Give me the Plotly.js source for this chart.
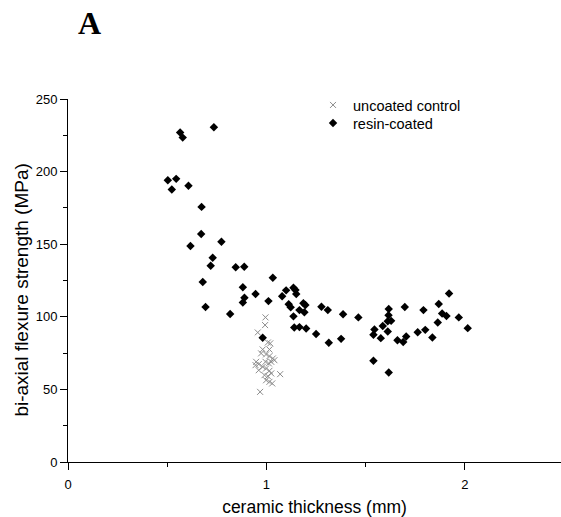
<!DOCTYPE html>
<html>
<head>
<meta charset="utf-8">
<script src="https://cdn.plot.ly/plotly-3.0.1.min.js"></script>
<style>html,body{margin:0;padding:0;background:#fff;}#chart{width:561px;height:517px;}</style>
</head>
<body>
<div id="chart"></div>
<script>
// uncoated control (thickness mm, strength MPa)
var uncoatedX = [0.995,0.993,0.956,1.007,1.019,0.981,1.015,0.973,0.998,1.015,1.032,1.040,0.948,0.961,0.945,0.995,1.012,1.024,0.981,0.998,0.961,1.015,0.990,1.007,1.024,1.069,0.998,1.015,1.029,0.968];
var uncoatedY = [99.6,94.3,89.2,82.3,81.7,77.5,77.5,74.8,74.1,72.9,71.3,70.1,69.0,67.4,66.7,69.0,67.9,69.0,65.5,64.4,63.2,62.8,59.8,59.1,61.0,60.5,56.3,55.2,54.1,48.3];

// resin-coated
var coatedX = [0.565,0.578,0.735,0.503,0.545,0.523,0.607,0.673,0.671,0.617,0.773,0.729,0.719,0.845,0.888,0.679,1.032,0.881,0.945,0.889,0.881,1.010,0.693,0.817,1.099,1.136,1.146,1.150,1.079,1.112,1.122,1.186,1.196,1.166,1.191,1.136,1.140,1.166,1.200,0.981,1.277,1.309,1.250,1.314,1.386,1.376,1.463,1.544,1.539,1.576,1.586,1.611,1.616,1.615,1.611,1.628,1.539,1.616,1.660,1.689,1.704,1.697,1.762,1.800,1.791,1.836,1.868,1.920,1.863,1.885,1.907,1.969,2.014];
var coatedY = [226.9,223.4,230.6,194.1,195.0,187.6,190.3,175.7,157.0,148.8,151.7,140.7,135.2,134.1,134.5,123.9,126.9,120.3,115.7,113.1,109.9,110.8,106.7,101.9,118.2,120.0,118.4,115.7,114.1,108.6,106.5,109.4,108.1,104.6,103.2,100.3,92.7,92.9,92.0,85.5,106.9,104.6,88.1,82.1,101.7,84.8,99.6,91.3,87.6,85.3,93.6,89.9,105.3,101.0,97.0,97.2,69.7,61.7,83.9,82.6,86.5,106.7,89.4,91.0,104.6,85.8,108.8,116.1,96.1,102.3,100.5,99.6,92.2];

var xTickVals = [0, 1, 2];
var yTickVals = [0, 50, 100, 150, 200, 250];
var seriesNames = ['uncoated control', 'resin-coated'];
var panelLabel = 'A';
var xTitle = 'ceramic thickness (mm)';
var yTitle = 'bi-axial flexure strength (MPa)';

var traces = [
  {
    x: uncoatedX, y: uncoatedY, type: 'scatter', mode: 'markers', name: seriesNames[0], legend: 'legend',
    marker: {symbol: 'x-thin', size: 6, color: '#8c8c8c', line: {width: 1, color: '#8c8c8c'}}
  },
  {
    x: coatedX, y: coatedY, type: 'scatter', mode: 'markers', name: seriesNames[1], legend: 'legend2',
    marker: {symbol: 'diamond', size: 6.5, color: '#000'}
  }
];

var legendCommon = {xanchor: 'left', yanchor: 'top', bgcolor: 'rgba(0,0,0,0)', font: {size: 14.5, color: '#000'}};

var layout = {
  width: 561, height: 517,
  margin: {l: 68, r: 0, t: 99, b: 55},
  paper_bgcolor: '#fff', plot_bgcolor: '#fff',
  font: {family: 'Liberation Sans, Arial, sans-serif', color: '#000'},
  showlegend: true,
  legend: Object.assign({x: 0.497, y: 1.0275}, legendCommon),
  legend2: Object.assign({x: 0.497, y: 0.978}, legendCommon),
  xaxis: {
    range: [0, 2.484], showgrid: false, zeroline: false,
    showline: true, linecolor: '#000', linewidth: 1,
    ticks: 'outside', ticklen: 7, tickcolor: '#000', tickwidth: 1,
    tickvals: xTickVals, ticktext: xTickVals.map(String),
    tickfont: {size: 13}, ticklabelstandoff: 3,
    minor: {tickvals: [0.5, 1.5], ticks: 'outside', ticklen: 4, tickcolor: '#000'},
    title: {text: xTitle, font: {size: 17.5}, standoff: 12}
  },
  yaxis: {
    range: [0, 250], showgrid: false, zeroline: false,
    showline: true, linecolor: '#000', linewidth: 1,
    ticks: 'outside', ticklen: 7, tickcolor: '#000', tickwidth: 1,
    tickvals: yTickVals, ticktext: yTickVals.map(String),
    tickfont: {size: 13},
    minor: {dtick: 25, ticks: 'outside', ticklen: 4, tickcolor: '#000'}
  },
  annotations: [
    {text: '<b>' + panelLabel + '</b>', xref: 'paper', yref: 'paper', x: 0.0446, y: 1.209,
     xanchor: 'center', yanchor: 'middle', showarrow: false,
     font: {family: 'Liberation Serif, Times New Roman, serif', size: 32, color: '#000'}},
    {text: yTitle, xref: 'paper', yref: 'paper', x: -0.094, y: 0.474, textangle: -90,
     xanchor: 'center', yanchor: 'middle', showarrow: false,
     font: {size: 19, color: '#000'}}
  ]
};

Plotly.newPlot('chart', traces, layout, {displayModeBar: false, staticPlot: true});
</script>
</body>
</html>
